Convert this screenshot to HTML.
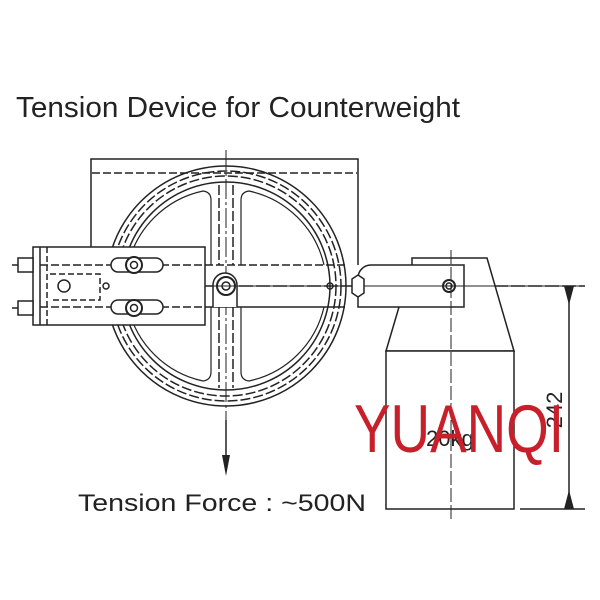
<!DOCTYPE html>
<html><head><meta charset="utf-8"><style>body{margin:0;background:#fff}svg{display:block}</style></head><body>
<svg width="600" height="600" viewBox="0 0 600 600" xmlns="http://www.w3.org/2000/svg" font-family="Liberation Sans, sans-serif">
<rect width="600" height="600" fill="#fff"/>
<g fill="none" stroke="#222" stroke-width="1.5">
<!-- back plate -->
<polyline points="91,247 91,159 358,159 358,265"/>
<line x1="92" y1="173" x2="357" y2="173" stroke-dasharray="8,3"/>
<!-- wheel -->
<circle cx="226" cy="286" r="120"/>
<circle cx="226" cy="286" r="115" stroke-dasharray="10,3"/>
<circle cx="226" cy="286" r="110" stroke-dasharray="10,3"/>
<circle cx="226" cy="286" r="104"/>
<!-- spoke openings -->
<path d="M211,265 L211,200 Q211,192 203,191 A98,98 0 0 0 128,265" stroke-width="1.2"/>
<path d="M241,265 L241,200 Q241,192 249,191 A98,98 0 0 1 324,265" stroke-width="1.2"/>
<path d="M211,307 L211,372 Q211,380 203,381 A98,98 0 0 1 128,307" stroke-width="1.2"/>
<path d="M241,307 L241,372 Q241,380 249,381 A98,98 0 0 0 324,307" stroke-width="1.2"/>
<path d="M219,185 L219,265 M233,185 L233,265" stroke-dasharray="10,3"/>
<path d="M219,307 L219,388 M233,307 L233,388" stroke-dasharray="10,3"/>
<!-- center lines -->
<line x1="226" y1="150" x2="226" y2="420" stroke-dasharray="20,3,3,3" stroke-width="1"/>
<!-- bracket -->
<rect x="33" y="247" width="172" height="78" fill="#fff"/>
<line x1="40" y1="247" x2="40" y2="325"/>
<line x1="47" y1="247" x2="47" y2="325" stroke-dasharray="6,3"/>
<line x1="40" y1="265" x2="205" y2="265" stroke-dasharray="8,3"/>
<line x1="40" y1="307" x2="205" y2="307" stroke-dasharray="8,3"/>
<path d="M50,274 L100,274 L100,300 L50,300" stroke-dasharray="6,3"/>
<circle cx="64" cy="286" r="6"/>
<rect x="111" y="258" width="52" height="14" rx="7" fill="#fff"/>
<rect x="111" y="300" width="52" height="14" rx="7" fill="#fff"/>
<circle cx="134" cy="265" r="8" fill="#fff" stroke-width="2"/><circle cx="134" cy="265" r="3.5"/>
<circle cx="134" cy="308" r="8" fill="#fff" stroke-width="2"/><circle cx="134" cy="308" r="3.5"/>
<circle cx="106" cy="286" r="3"/>
<!-- bolts left -->
<rect x="18" y="258" width="15" height="14" fill="#fff"/><rect x="18" y="301" width="15" height="14" fill="#fff"/>
<line x1="12" y1="265" x2="18" y2="265"/><line x1="12" y1="308" x2="18" y2="308"/>
<!-- arm -->
<line x1="205" y1="265" x2="345" y2="265" stroke-dasharray="8,3"/>
<line x1="205" y1="307" x2="345" y2="307"/>
<line x1="205" y1="286" x2="585" y2="286" stroke-dasharray="14,3"/>
<path d="M213,307 L213,285 A12,12 0 0 1 237,285 L237,307" fill="#fff"/>
<circle cx="226" cy="286" r="9" stroke-width="2"/><circle cx="226" cy="286" r="4"/>
<circle cx="330" cy="286" r="3"/>
<!-- weight -->
<path d="M412,265 L412,258 L487,258 L514,351 L386,351 L399,307" fill="#fff"/>
<rect x="386" y="351" width="128" height="158" fill="#fff"/>
<path d="M358,307 L358,278 A13,13 0 0 1 371,265 L464,265 L464,307 Z" fill="#fff"/>
<line x1="205" y1="286" x2="585" y2="286" stroke-width="1"/>
<polygon points="352,279 358,275 364,279 364,293 358,297 352,293" fill="#fff"/>
<circle cx="449" cy="286" r="6" stroke-width="2"/><circle cx="449" cy="286" r="3"/>
<line x1="451" y1="250" x2="451" y2="520" stroke-dasharray="14,3" stroke-width="1"/>
<!-- dimension -->
<line x1="520" y1="509" x2="585" y2="509"/>
<line x1="569" y1="286" x2="569" y2="509"/>
<!-- arrow -->
<line x1="226" y1="420" x2="226" y2="460"/>
</g>
<polygon points="564,286 574,286 569,305" fill="#222"/>
<polygon points="564,509 574,509 569,490" fill="#222"/>
<polygon points="222,455 230,455 226,476" fill="#222"/>
<text x="16" y="117" font-size="29" fill="#222" textLength="444" lengthAdjust="spacingAndGlyphs">Tension Device for Counterweight</text>
<text x="78" y="511" font-size="24" fill="#222" textLength="288" lengthAdjust="spacingAndGlyphs">Tension Force  :  ~500N</text>
<text x="426" y="446" font-size="22" fill="#222">20kg</text>
<text transform="translate(562,410) rotate(-90)" font-size="22" fill="#222" text-anchor="middle">242</text>
<text x="354" y="452" font-size="68" fill="#c8202a" textLength="210" lengthAdjust="spacingAndGlyphs">YUANQI</text>
</svg>
</body></html>
